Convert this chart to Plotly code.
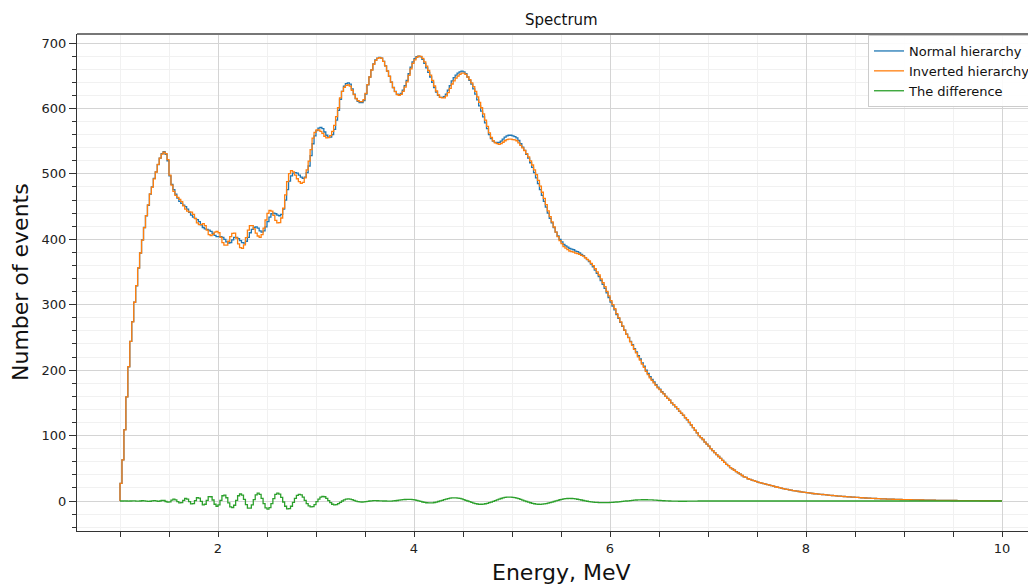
import numpy as np
import plotly.graph_objects as go

# Histogram binning: 450 bins of 0.02 MeV from 1 to 10 MeV
E_MIN, E_MAX, N_BINS = 1.0, 10.0, 450

# Normal hierarchy counts per bin, rows of 10 bins = 0.2 MeV
normal_hierarchy = [
    27, 63, 109, 159, 205, 244, 274, 304, 329, 356,
    379, 399, 418, 436, 452, 469, 480, 493, 503, 514,
    524, 531, 534, 530, 520, 497, 484, 476, 469, 463,
    458, 455, 452, 450, 446, 441, 437, 434, 432, 430,
    427, 422, 418, 416, 415, 414, 412, 409, 406, 404,
    404, 404, 403, 400, 396, 394, 395, 399, 403, 403,
    401, 398, 395, 394, 397, 403, 410, 415, 418, 419,
    417, 413, 411, 413, 419, 427, 434, 439, 440, 439,
    437, 436, 438, 446, 460, 476, 489, 497, 501, 502,
    501, 498, 495, 493, 495, 502, 512, 528, 546, 558,
    566, 570, 571, 569, 564, 559, 556, 556, 560, 568,
    582, 597, 614, 626, 634, 638, 639, 637, 630, 622,
    615, 611, 609, 609, 612, 622, 636, 648, 659, 668,
    674, 677, 678, 677, 672, 665, 657, 649, 640, 632,
    626, 622, 621, 623, 628, 635, 643, 653, 663, 671,
    676, 679, 680, 679, 675, 669, 662, 655, 648, 640,
    632, 625, 620, 617, 617, 618, 622, 628, 635, 642,
    647, 651, 654, 656, 657, 656, 653, 648, 643, 637,
    630, 622, 613, 604, 596, 587, 578, 569, 560, 554,
    550, 548, 548, 548, 550, 553, 556, 558, 559, 559,
    558, 557, 555, 551, 546, 541, 536, 530, 524, 517,
    510, 502, 494, 485, 476, 467, 458, 449, 440, 432,
    425, 418, 411, 405, 400, 396, 392, 390, 388, 386,
    385, 384, 382, 381, 379, 377, 375, 372, 369, 366,
    362, 358, 353, 348, 343, 337, 331, 325, 318, 311,
    304, 298, 292, 285, 279, 273, 267, 261, 255, 250,
    244, 239, 233, 228, 222, 217, 211, 206, 200, 195,
    190, 186, 182, 178, 174, 171, 167, 164, 160, 157,
    154, 150, 147, 144, 141, 137, 134, 131, 127, 124,
    120, 116, 112, 108, 104, 100, 97, 94, 90, 87,
    84, 80, 77, 74, 71, 68, 65, 62, 59, 56,
    54, 51, 49, 47, 45, 43, 41, 39, 37, 36,
    34, 33, 32, 31, 30, 29, 28, 27.3, 26.5, 25.8,
    25, 24.2, 23.4, 22.6, 21.8, 21, 20.3, 19.6, 18.9, 18.3,
    17.7, 17.1, 16.5, 16, 15.5, 15, 14.5, 14, 13.5, 13.1,
    12.7, 12.3, 11.9, 11.5, 11.1, 10.8, 10.5, 10.2, 9.9, 9.6,
    9.3, 9.0, 8.7, 8.4, 8.1, 7.9, 7.6, 7.4, 7.1, 6.9,
    6.7, 6.4, 6.2, 6.0, 5.8, 5.6, 5.4, 5.2, 5.0, 4.8,
    4.6, 4.5, 4.3, 4.1, 4.0, 3.8, 3.7, 3.5, 3.4, 3.3,
    3.1, 3.0, 2.9, 2.8, 2.7, 2.6, 2.5, 2.4, 2.3, 2.2,
    2.1, 2.0, 2.0, 1.9, 1.8, 1.7, 1.7, 1.6, 1.5, 1.5,
    1.4, 1.4, 1.3, 1.3, 1.2, 1.2, 1.1, 1.1, 1.0, 1.0,
    1.0, 0.9, 0.9, 0.9, 0.8, 0.8, 0.8, 0.7, 0.7, 0.7,
    0.6, 0.6, 0.6, 0.6, 0.5, 0.5, 0.5, 0.5, 0.5, 0.4,
    0.4, 0.4, 0.4, 0.4, 0.3, 0.3, 0.3, 0.3, 0.3, 0.3,
]

# The difference (normal - inverted) per bin
the_difference = [
    0, 0, 0.3, 0, -0.3, 0, 0.3, 0.2, -0.2, -0.3,
    0, 0.4, 0.3, -0.2, -0.5, -0.4, 0.3, 0.7, 0.2, -0.6,
    0, 0.9, 0.8, -0.8, -1.8, -1.2, 1.2, 2.8, 1.8, -1.0,
    -3.0, -2.5, 1.0, 3.8, 3.0, -1.0, -4.4, -4.0, 0.5, 5.0,
    4.5, -0.5, -6.0, -5.0, 1.0, 6.8, 6.5, 1.5, -5.0, -8.0,
    -6.0, 1.0, 8.0, 9.0, 5.0, -3.0, -9.0, -10.0, -6.5, 1.0,
    8.0, 10.7, 9.0, 2.5, -5.5, -11.0, -11.0, -6.0, 2.0, 9.5,
    12.0, 10.0, 4.0, -4.0, -10.5, -12.5, -10.0, -4.0, 3.5, 10.0,
    12.0, 10.5, 5.5, -1.5, -8.0, -12.0, -11.5, -8.0, -2.0, 4.0,
    8.5, 10.0, 9.5, 6.0, 1.0, -4.0, -7.5, -9.0, -8.5, -5.5,
    -1.0, 3.0, 6.0, 7.0, 6.5, 4.0, 0.5, -2.5, -5.0, -6.0,
    -5.5, -4.0, -2.0, 0.0, 1.8, 2.8, 3.2, 3.0, 2.2, 1.0,
    -0.2, -1.0, -1.4, -1.5, -1.3, -1.0, -0.5, 0, 0.3, 0.5,
    0.5, 0.4, 0.3, 0.2, 0, 0, -0.2, -0.2, -0.1, 0.1,
    0.4, 0.8, 1.2, 1.6, 2.0, 2.3, 2.5, 2.6, 2.5, 2.2,
    1.7, 1.0, 0.2, -0.7, -1.5, -2.2, -2.7, -3.0, -3.0, -2.8,
    -2.3, -1.6, -0.8, 0.1, 1.0, 2.0, 2.9, 3.7, 4.3, 4.7,
    4.9, 4.8, 4.5, 3.9, 3.1, 2.2, 1.1, 0, -1.1, -2.2,
    -3.2, -4.0, -4.6, -5.1, -5.0, -4.7, -4.2, -3.5, -2.6, -1.6,
    -0.5, 0.6, 1.7, 2.8, 3.8, 4.7, 5.4, 5.8, 6.0, 5.9,
    5.6, 5.1, 4.4, 3.5, 2.5, 1.4, 0.3, -0.8, -1.8, -2.7,
    -3.5, -4.2, -4.7, -5.0, -5.1, -4.9, -4.5, -4.0, -3.3, -2.5,
    -1.7, -0.8, 0.1, 1.0, 1.9, 2.6, 3.2, 3.6, 3.8, 3.9,
    3.8, 3.6, 3.2, 2.7, 2.1, 1.5, 0.8, 0.2, -0.4, -0.9,
    -1.3, -1.7, -2.0, -2.2, -2.4, -2.5, -2.6, -2.6, -2.5, -2.4,
    -2.2, -2.0, -1.8, -1.5, -1.2, -0.9, -0.6, -0.3, 0.0, 0.3,
    0.7, 1.0, 1.3, 1.5, 1.7, 1.8, 1.9, 1.9, 1.9, 1.8,
    1.7, 1.6, 1.4, 1.2, 1.0, 0.8, 0.6, 0.4, 0.2, 0.1,
    0, -0.1, -0.2, -0.3, -0.3, -0.4, -0.4, -0.4, -0.4, -0.3,
    -0.3, -0.2, -0.2, -0.1, -0.1, 0, 0, 0, 0, 0,
] + [0.0] * 150

# Inverted hierarchy derived from the two read series
inverted_hierarchy = [n - d for n, d in zip(normal_hierarchy, the_difference)]

series_names = ["Normal hierarchy", "Inverted hierarchy", "The difference"]
series_colors = ["#1f77b4", "#ff7f0e", "#2ca02c"]

edges = np.linspace(E_MIN, E_MAX, N_BINS + 1)


def step_xy(values):
    # matplotlib 'step' histogram outline
    xs = [edges[0]] + list(edges[:-1]) + [edges[-1]]
    ys = [0.0] + list(values) + [values[-1]]
    return xs, ys


fig = go.Figure()
for name, vals, col in zip(series_names,
                           [normal_hierarchy, inverted_hierarchy, the_difference],
                           series_colors):
    xs, ys = step_xy(vals)
    fig.add_trace(go.Scatter(x=xs, y=ys, mode="lines", name=name,
                             line=dict(color=col, width=1.3, shape="hv")))

FONT = "DejaVu Sans"
OFF = 8  # page body margin offset
W, H = 1036, 585
L, T = 77 - OFF, 34 - OFF
R = 0
B = H - (531 - OFF)
pw = W - L - R
ph = H - T - B


def px_x(page_x):
    return (page_x - OFF - L) / pw


def px_y(page_y):
    return ((531 - OFF) - (page_y - OFF)) / ph


x_right = 2 + (W + OFF - 218) / 98.0

fig.update_layout(
    width=W, height=H,
    margin=dict(l=L, r=R, t=T, b=B),
    paper_bgcolor="white", plot_bgcolor="white",
    font=dict(family=FONT, size=13, color="#222"),
    showlegend=True,
    legend=dict(x=px_x(868), y=px_y(35), xanchor="left", yanchor="top",
                bgcolor="rgba(255,255,255,0.9)", bordercolor="#cccccc", borderwidth=1,
                font=dict(family=FONT, size=13, color="#111"),
                tracegroupgap=0, itemwidth=30),
    xaxis=dict(range=[0.5612, x_right], tick0=0, dtick=2,
               showgrid=True, gridcolor="#d4d4d4", gridwidth=1,
               zeroline=False, showline=True, linecolor="#333", linewidth=1.3,
               ticks="outside", ticklen=5, tickwidth=1.2, tickcolor="#333",
               tickfont=dict(family=FONT, size=13, color="#222"),
               minor=dict(dtick=0.5, tick0=0, showgrid=True, gridcolor="#f1f1f1",
                          gridwidth=1, ticks="outside", ticklen=5, tickwidth=1.2,
                          tickcolor="#333")),
    yaxis=dict(range=[-45.85, 713.75], tick0=0, dtick=100,
               showgrid=True, gridcolor="#d4d4d4", gridwidth=1,
               zeroline=False, showline=True, linecolor="#333", linewidth=1.3,
               ticks="outside", ticklen=7, tickwidth=1.2, tickcolor="#333",
               tickfont=dict(family=FONT, size=13, color="#222"),
               minor=dict(dtick=20, tick0=0, showgrid=True, gridcolor="#f1f1f1",
                          gridwidth=1, ticks="outside", ticklen=4, tickwidth=1.2,
                          tickcolor="#333")),
    shapes=[dict(type="line", xref="paper", yref="paper", x0=0, x1=1, y0=1, y1=1,
                 line=dict(color="#777777", width=2))],
    annotations=[
        dict(text="Spectrum", xref="paper", yref="paper", x=px_x(561),
             y=px_y(20), xanchor="center", yanchor="middle", showarrow=False,
             font=dict(family=FONT, size=15, color="#111")),
        dict(text="Energy, MeV", xref="paper", yref="paper", x=px_x(561),
             y=px_y(572), xanchor="center", yanchor="middle", showarrow=False,
             font=dict(family=FONT, size=22, color="#111")),
        dict(text="Number of events", xref="paper", yref="paper", x=px_x(20),
             y=px_y(282), xanchor="center", yanchor="middle", showarrow=False,
             textangle=-90, font=dict(family=FONT, size=22, color="#111")),
    ],
)

fig.write_html("out.html")
